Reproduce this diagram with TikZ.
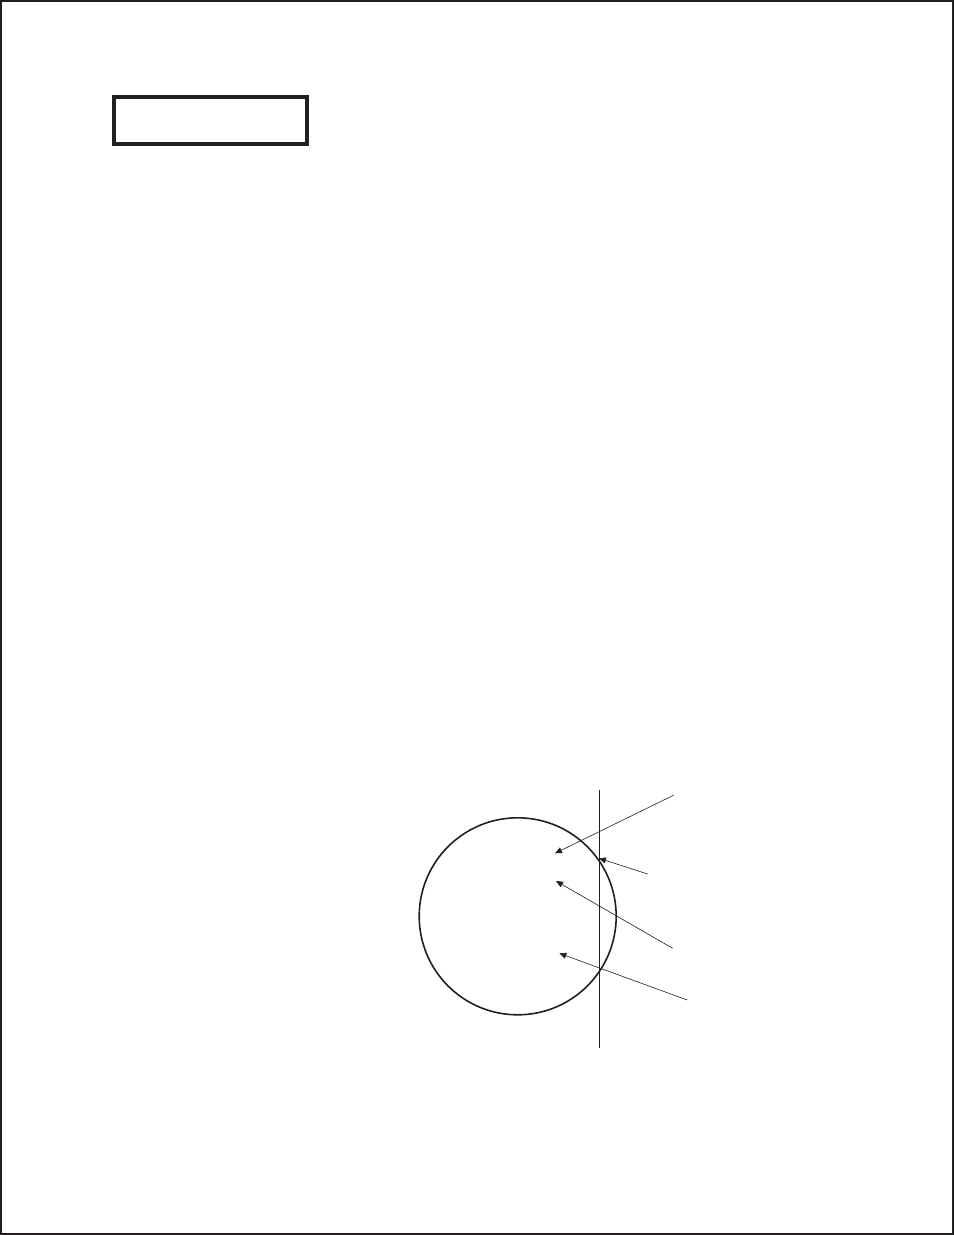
\documentclass[tikz,border=0pt]{standalone}
\usetikzlibrary{arrows.meta}
\definecolor{ink}{HTML}{231F20}
\begin{document}
\begin{tikzpicture}[x=1pt,y=-1pt,
  frame/.style={draw=ink,line width=2pt},
  titlebox/.style={draw=ink,line width=3.5pt},
  ball/.style={draw=ink,line width=1.6pt},
  thin/.style={draw=ink,line width=0.6pt},
  pointer/.style={draw=ink,line width=0.6pt,-{Triangle[length=7pt,width=6pt]}}]
\useasboundingbox (0,0) rectangle (954,1235);
\draw[frame] (1,1) rectangle (953,1234);
\draw[titlebox] (114,97) rectangle (307,144);
\node[circle,ball,minimum size=197pt,inner sep=0pt] (c) at (517.7,916.3) {};
\coordinate (vt) at (599,790);
\coordinate (vb) at (599,1048);
\draw[thin] (vt) -- (vb);
\coordinate (s1) at (674,795);   \coordinate (t1) at (555,853.3);
\coordinate (s2) at (647.7,874); \coordinate (t2) at (599,858.3);
\coordinate (s3) at (672.7,948.3); \coordinate (t3) at (556,881);
\coordinate (s4) at (687.3,1000); \coordinate (t4) at (559.3,953.3);
\draw[pointer] (s1) -- (t1);
\draw[pointer] (s2) -- (t2);
\draw[pointer] (s3) -- (t3);
\draw[pointer] (s4) -- (t4);
\end{tikzpicture}
\end{document}
